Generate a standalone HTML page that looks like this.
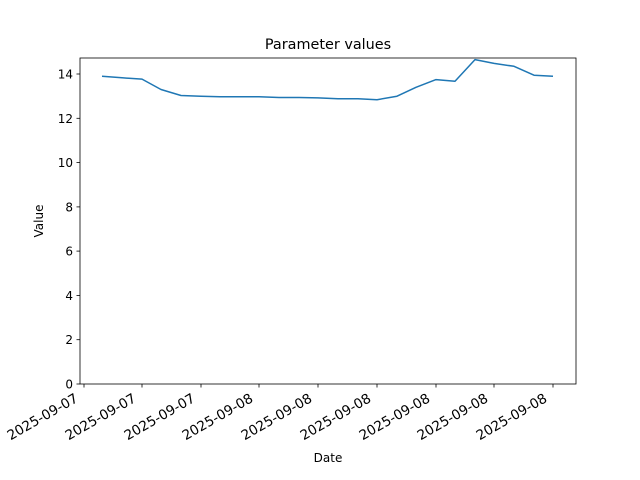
<!DOCTYPE html>
<html><head><style>body{margin:0;background:#fff}svg{display:block}text{font-family:"DejaVu Sans","Liberation Sans",sans-serif;fill:#000}</style></head>
<body>
<svg width="640" height="480" viewBox="0 0 640 480" xmlns="http://www.w3.org/2000/svg">
<rect width="640" height="480" fill="#fff"/>
<text x="328" y="49" font-size="14.4" text-anchor="middle">Parameter values</text>
<polyline fill="none" stroke="#1f77b4" stroke-width="1.5" stroke-linejoin="round" points="102,76.3 122,77.8 142,79.1 161,89.5 181,95.5 201,96.2 220,96.8 240,96.8 259,96.8 279,97.5 299,97.5 318,97.9 338,98.8 358,98.8 377,99.7 397,96.2 416,87.3 436,79.6 455,81.3 475,59.6 494,63.4 514,66.3 534,75.2 553,76.3"/>
<rect x="80" y="58" width="496" height="326" fill="none" stroke="#000" stroke-width="0.8"/>
<g stroke="#000" stroke-width="0.8">
<line x1="80" y1="384" x2="76.5" y2="384"/><line x1="80" y1="339.7" x2="76.5" y2="339.7"/><line x1="80" y1="295.4" x2="76.5" y2="295.4"/><line x1="80" y1="251.1" x2="76.5" y2="251.1"/><line x1="80" y1="206.9" x2="76.5" y2="206.9"/><line x1="80" y1="162.6" x2="76.5" y2="162.6"/><line x1="80" y1="118.3" x2="76.5" y2="118.3"/><line x1="80" y1="74" x2="76.5" y2="74"/>
<line x1="84" y1="384" x2="84" y2="387.5"/><line x1="142" y1="384" x2="142" y2="387.5"/><line x1="201" y1="384" x2="201" y2="387.5"/><line x1="259" y1="384" x2="259" y2="387.5"/><line x1="318" y1="384" x2="318" y2="387.5"/><line x1="377" y1="384" x2="377" y2="387.5"/><line x1="436" y1="384" x2="436" y2="387.5"/><line x1="494" y1="384" x2="494" y2="387.5"/><line x1="553" y1="384" x2="553" y2="387.5"/>
</g>
<g font-size="12" text-anchor="end">
<text x="73" y="388.5">0</text><text x="73" y="344.2">2</text><text x="73" y="299.9">4</text><text x="73" y="255.6">6</text><text x="73" y="211.4">8</text><text x="73" y="167.1">10</text><text x="73" y="122.8">12</text><text x="73" y="78.5">14</text>
</g>
<g font-size="13.6" text-anchor="end">
<text transform="translate(79,401) rotate(-30)">2025-09-07</text>
<text transform="translate(137,401) rotate(-30)">2025-09-07</text>
<text transform="translate(196,401) rotate(-30)">2025-09-07</text>
<text transform="translate(254,401) rotate(-30)">2025-09-08</text>
<text transform="translate(313,401) rotate(-30)">2025-09-08</text>
<text transform="translate(372,401) rotate(-30)">2025-09-08</text>
<text transform="translate(431,401) rotate(-30)">2025-09-08</text>
<text transform="translate(489,401) rotate(-30)">2025-09-08</text>
<text transform="translate(548,401) rotate(-30)">2025-09-08</text>
</g>
<text x="328" y="462" font-size="12" text-anchor="middle">Date</text>
<text transform="translate(43,221) rotate(-90)" font-size="12" text-anchor="middle">Value</text>
</svg>
</body></html>
